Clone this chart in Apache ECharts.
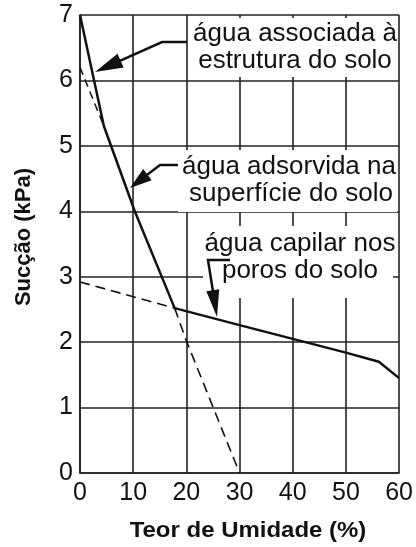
<!DOCTYPE html>
<html><head><meta charset="utf-8">
<script src="https://cdn.jsdelivr.net/npm/echarts@6/dist/echarts.min.js"></script>
<style>html,body{margin:0;padding:0;background:#fff}#c{width:416px;height:547px}</style>
</head><body><div id="c"></div>
<script>
// Data
const xTicks = [0, 10, 20, 30, 40, 50, 60];
const yTicks = [0, 1, 2, 3, 4, 5, 6, 7];
const solidCurve = [[0, 7], [4.5, 5.3], [10.3, 4.0], [17.8, 2.52], [30, 2.26], [40, 2.05], [50, 1.84], [56.2, 1.70], [60, 1.45]];
const dashedStructure = [[0, 6.2], [4.5, 5.3]];
const dashedCapillary = [[0, 2.92], [17.8, 2.52]];
const dashedAdsorbed = [[17.8, 2.52], [20, 2.02], [30, 0]];
const labelLines = [
  ['água associada à', 'estrutura do solo'],
  ['água adsorvida na', 'superfície do solo'],
  ['água capilar nos', 'poros do solo']
];
const xTitle = 'Teor de Umidade (%)';
const yTitle = 'Sucção (kPa)';

const FONT = '"Liberation Sans", Arial, Helvetica, sans-serif';
const INK = '#111';
const chart = echarts.init(document.getElementById('c'), null, {renderer: 'canvas'});

function arrow(pts, L, W) {
  const n = pts.length;
  const tip = pts[n - 1], prev = pts[n - 2];
  let dx = tip[0] - prev[0], dy = tip[1] - prev[1];
  const len = Math.hypot(dx, dy); dx /= len; dy /= len;
  const bx = tip[0] - L * dx, by = tip[1] - L * dy;
  const nx = -dy, ny = dx;
  const shaft = pts.slice(0, n - 1).concat([[bx + dx * 2, by + dy * 2]]);
  return [
    {type: 'polyline', z: 10, shape: {points: shaft}, style: {stroke: INK, lineWidth: 2.5, fill: null}},
    {type: 'polygon', z: 10, shape: {points: [tip, [bx + nx * W / 2, by + ny * W / 2], [bx - nx * W / 2, by - ny * W / 2]]}, style: {fill: INK}}
  ];
}
function box(x, y, w, h) {
  return {type: 'rect', z: 1, shape: {x, y, width: w, height: h}, style: {fill: '#fff'}};
}
function txt(s, x, y, size, bold, extra) {
  return Object.assign({type: 'text', z: 11, x, y, style: {text: s, fill: INK, font: (bold ? 'bold ' : '') + size + 'px ' + FONT, textAlign: 'center', textVerticalAlign: 'middle'}}, extra || {});
}

const graphics = [
  box(188, 18, 209, 59),
  box(178, 150, 219, 62),
  box(203, 226, 190, 72),
  txt(labelLines[0][0], 295, 34, 26),
  txt(labelLines[0][1], 295, 61, 26),
  txt(labelLines[1][0], 289, 167, 26),
  txt(labelLines[1][1], 291, 194, 26),
  txt(labelLines[2][0], 300, 244, 26),
  txt(labelLines[2][1], 300, 271, 26),
  txt(xTitle, 248, 531, 22, true, {scaleX: 1.09}),
  txt(yTitle, 24, 237, 22, true, {rotation: Math.PI / 2})
].concat(
  arrow([[187, 42], [162, 42], [95, 72]], 28, 15),
  arrow([[178, 165], [160, 165], [130, 188]], 22, 14),
  arrow([[230, 260], [208, 260], [217, 317]], 27, 13)
);

const lineStyleGrid = {color: '#222', width: 1.6};
chart.setOption({
  animation: false,
  backgroundColor: '#fff',
  grid: {left: 80, top: 15, width: 320, height: 458, containLabel: false},
  xAxis: {
    type: 'value', min: xTicks[0], max: xTicks[xTicks.length - 1], interval: 10,
    axisLine: {show: true, lineStyle: lineStyleGrid},
    axisTick: {show: false},
    splitLine: {show: true, lineStyle: lineStyleGrid},
    axisLabel: {color: INK, fontSize: 25, fontFamily: FONT, margin: 8}
  },
  yAxis: {
    type: 'value', min: yTicks[0], max: yTicks[yTicks.length - 1], interval: 1,
    axisLine: {show: true, lineStyle: lineStyleGrid},
    axisTick: {show: false},
    splitLine: {show: true, lineStyle: lineStyleGrid},
    axisLabel: {color: INK, fontSize: 25, fontFamily: FONT, margin: 7}
  },
  series: [
    {type: 'line', data: solidCurve, symbol: 'none', z: 5, lineStyle: {color: INK, width: 2.5}},
    {type: 'line', data: dashedStructure, symbol: 'none', z: 4, lineStyle: {color: INK, width: 1.5, type: [8, 5]}},
    {type: 'line', data: dashedCapillary, symbol: 'none', z: 4, lineStyle: {color: INK, width: 1.6, type: [10, 6]}},
    {type: 'line', data: dashedAdsorbed, symbol: 'none', z: 4, lineStyle: {color: INK, width: 1.6, type: [10, 6]}}
  ],
  graphic: {elements: graphics}
});
</script></body></html>
